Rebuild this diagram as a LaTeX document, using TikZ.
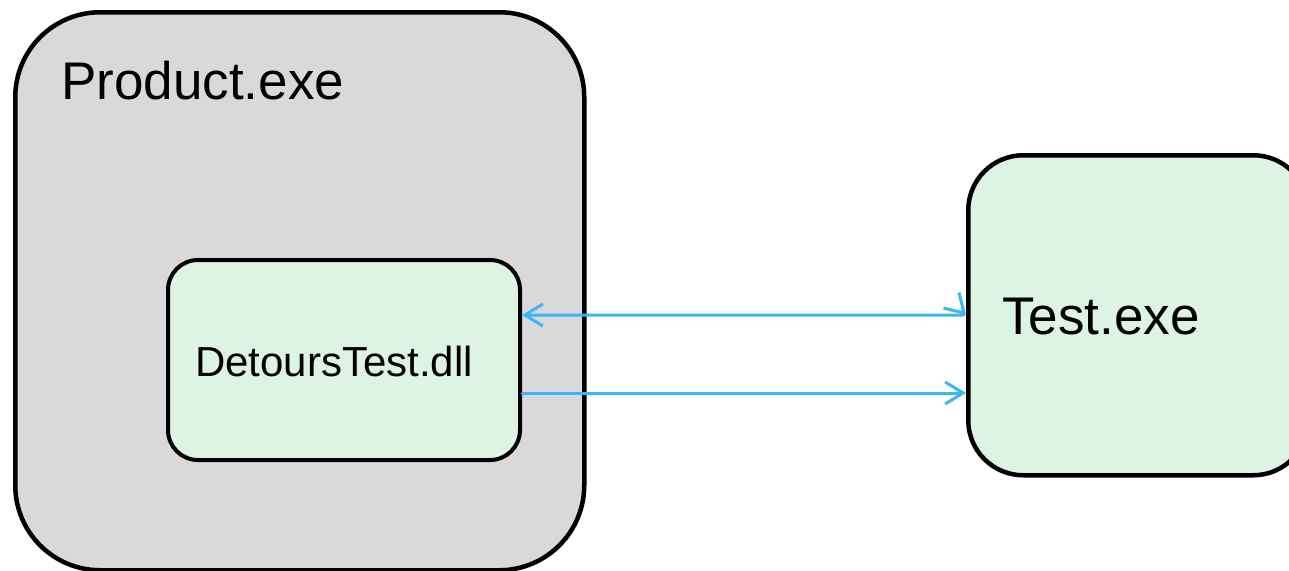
\documentclass[tikz,border=0pt]{standalone}
\usepackage{fontspec}
\setmainfont{Liberation Sans}
\usetikzlibrary{arrows.meta,calc}
\definecolor{boxgray}{HTML}{D9D9D9}
\definecolor{boxgreen}{HTML}{DDF3E4}
\definecolor{arrowblue}{HTML}{3CB6F4}
\tikzset{
  procbox/.style={draw=black, line width=4.5pt, rectangle, inner sep=0pt, anchor=north west},
  label text/.style={inner sep=0pt, anchor=base west, text=black},
  barb/.tip={Straight Barb[length=18pt,width=22pt,line width=3pt]},
  conn/.style={draw=arrowblue, line width=3pt, line cap=round, line join=round,
    arrows={barb-barb}},
  connone/.style={draw=arrowblue, line width=3pt, line cap=round,
    arrows={-barb}}
}
\begin{document}
\begin{tikzpicture}[x=1pt,y=-1pt]
\useasboundingbox (0,0) rectangle (1289,570);
\clip (0,0) rectangle (1289,570);
% outer product box
\node[procbox, fill=boxgray, rounded corners=85pt, minimum width=569pt, minimum height=558pt] (product) at (13,10) {};
\node[label text, font=\fontsize{53}{60}\selectfont] (producttxt) at (61,99) {Product.exe};
% inner dll box
\node[procbox, fill=boxgreen, line width=4pt, rounded corners=30pt, minimum width=352pt, minimum height=200pt] (dll) at (166,258) {};
\node[label text, font=\fontsize{42}{48}\selectfont] (dlltxt) at (195,376) {DetoursTest.dll};
% test box
\node[procbox, fill=boxgreen, rounded corners=55pt, minimum width=340pt, minimum height=320pt] (test) at (966,153) {};
\node[label text, font=\fontsize{53}{60}\selectfont] (testtxt) at (1002,334) {Test.exe};
% connectors
\coordinate (ytop) at (0,315);
\coordinate (ybot) at (0,393);
\draw[conn] (dll.east |- ytop) -- ($(test.west |- ytop)+(-2.5,0)$) -- ($(test.west |- ytop)+(-2.5,-2.5)$) -- (test.west |- ytop);
\draw[connone] (dll.east |- ybot) -- (test.west |- ybot);
\end{tikzpicture}
\end{document}
